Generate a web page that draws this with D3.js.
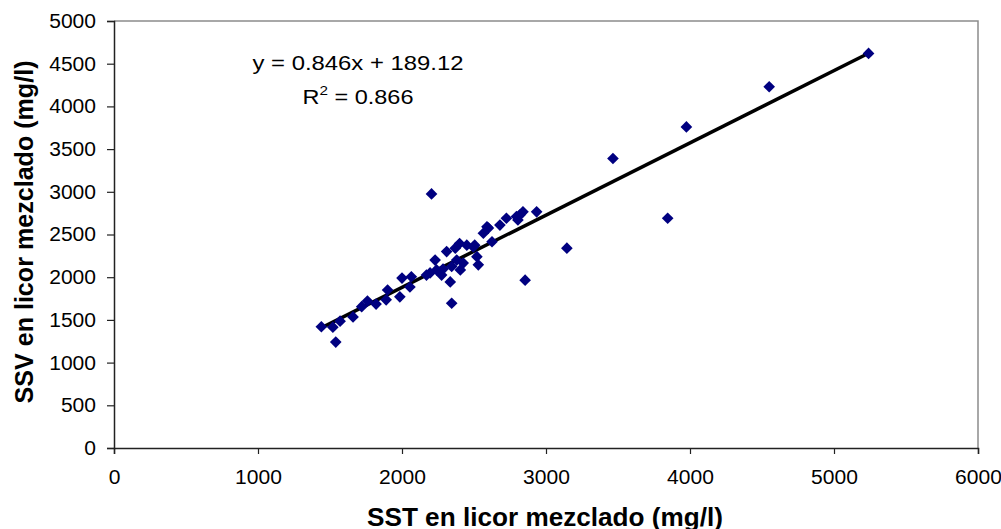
<!DOCTYPE html>
<html>
<head>
<meta charset="utf-8">
<script src="https://cdn.jsdelivr.net/npm/d3@7"></script>
<style>
  body { margin: 0; background: #fff; }
  text { font-family: "Liberation Sans", Arial, sans-serif; }
</style>
</head>
<body>
<div id="chart"></div>
<script>
// SST (x) and SSV (y) in mixed liquor, mg/l
const sst = [1440, 1540, 1520, 1570, 1660, 1720, 1760, 1820, 1890, 1900,
  1985, 2000, 2055, 2065, 2170, 2195, 2205, 2230, 2240, 2275,
  2285, 2310, 2335, 2345, 2345, 2370, 2380, 2400, 2405, 2425,
  2450, 2495, 2505, 2520, 2530, 2565, 2590, 2600, 2625, 2680,
  2725, 2795, 2805, 2820, 2840, 2855, 2935, 3145, 3465, 3845,
  3975, 4550, 5240];
const ssv = [1420, 1240, 1415, 1485, 1535, 1655, 1720, 1685, 1735, 1850,
  1770, 1990, 1885, 2005, 2025, 2050, 2975, 2200, 2085, 2025,
  2095, 2300, 1945, 1695, 2125, 2340, 2200, 2395, 2085, 2165,
  2375, 2355, 2375, 2240, 2145, 2515, 2590, 2575, 2415, 2610,
  2690, 2710, 2670, 2730, 2765, 1965, 2765, 2340, 3390, 2690,
  3760, 4230, 4620];
const xTicks = [0, 1000, 2000, 3000, 4000, 5000, 6000];
const yTicks = [0, 500, 1000, 1500, 2000, 2500, 3000, 3500, 4000, 4500, 5000];
const slope = 0.846;
const intercept = 189.12;
const eqLabel = 'y = 0.846x + 189.12';
const r2Value = '0.866';
const xTitle = 'SST en licor mezclado (mg/l)';
const yTitle = 'SSV en licor mezclado (mg/l)';

let margin = { top: 21, left: 114, right: 23, bottom: 81 };
let width = 1001;
let height = 529;

const svg = d3.select('#chart')
  .append('svg')
  .attr('width', width)
  .attr('height', height);

const xScale = d3.scaleLinear()
  .domain([0, 6000])
  .range([margin.left, width - margin.right]);

const yScale = d3.scaleLinear()
  .domain([0, 5000])
  .range([height - margin.bottom, margin.top]);

// plot area frame (gray top/right)
svg.append('path')
  .attr('d', `M${xScale(0)},${yScale(5000)}H${xScale(6000)}V${yScale(0)}`)
  .attr('fill', 'none')
  .attr('stroke', '#8c8c8c')
  .attr('stroke-width', 1.5);

// x axis
const xAxis = svg.append('g')
  .attr('transform', `translate(0,${yScale(0)})`)
  .call(d3.axisBottom(xScale).tickValues(xTicks).tickFormat(d3.format('d'))
    .tickSize(6).tickPadding(16));
// y axis
const yAxis = svg.append('g')
  .attr('transform', `translate(${xScale(0)},0)`)
  .call(d3.axisLeft(yScale).tickValues(yTicks).tickFormat(d3.format('d'))
    .tickSize(7).tickPadding(11));

// tick labels in the original are a bit wider than plain Arial
[xAxis, yAxis].forEach(ax => {
  ax.attr('font-size', null).attr('font-family', null);
  ax.select('.domain').attr('stroke', '#222').attr('stroke-width', 1.5);
  ax.selectAll('.tick line').attr('stroke', '#222').attr('stroke-width', 1.2);
  ax.selectAll('.tick text')
    .attr('fill', '#000')
    .attr('font-size', 20)
    .attr('textLength', function () { return this.textContent.length * 11.7; })
    .attr('lengthAdjust', 'spacingAndGlyphs');
});

// trendline
const xExt = d3.extent(sst);
svg.append('line')
  .attr('x1', xScale(xExt[0]))
  .attr('y1', yScale(slope * xExt[0] + intercept))
  .attr('x2', xScale(xExt[1]))
  .attr('y2', yScale(slope * xExt[1] + intercept))
  .attr('stroke', '#000')
  .attr('stroke-width', 3.5);

// points, diamonds
const diamond = d3.symbol().type(d3.symbolSquare).size(68);
svg.append('g')
  .selectAll('path')
  .data(sst.map((d, i) => ({ x: d, y: ssv[i] })))
  .enter()
  .append('path')
  .attr('d', diamond)
  .attr('transform', d => `translate(${xScale(d.x)},${yScale(d.y)}) rotate(45)`)
  .attr('fill', '#000080');

// equation labels
svg.append('text')
  .attr('x', 358)
  .attr('y', 70)
  .attr('text-anchor', 'middle')
  .attr('textLength', 211)
  .attr('lengthAdjust', 'spacingAndGlyphs')
  .style('font-size', '20px')
  .text(eqLabel);

const r2 = svg.append('text')
  .attr('x', 358)
  .attr('y', 104)
  .attr('text-anchor', 'middle')
  .attr('textLength', 111)
  .attr('lengthAdjust', 'spacingAndGlyphs')
  .style('font-size', '20px');
r2.append('tspan').text('R');
r2.append('tspan').attr('dy', -9).style('font-size', '13px').text('2');
r2.append('tspan').attr('dy', 9).text(' = ' + r2Value);

// axis titles
svg.append('text')
  .attr('x', 545)
  .attr('y', 526)
  .attr('text-anchor', 'middle')
  .attr('textLength', 356)
  .attr('lengthAdjust', 'spacingAndGlyphs')
  .style('font-size', '26px')
  .style('font-weight', 'bold')
  .text(xTitle);

svg.append('text')
  .attr('transform', 'translate(33,232) rotate(-90)')
  .attr('text-anchor', 'middle')
  .attr('textLength', 343)
  .attr('lengthAdjust', 'spacingAndGlyphs')
  .style('font-size', '26px')
  .style('font-weight', 'bold')
  .text(yTitle);
</script>
</body>
</html>
